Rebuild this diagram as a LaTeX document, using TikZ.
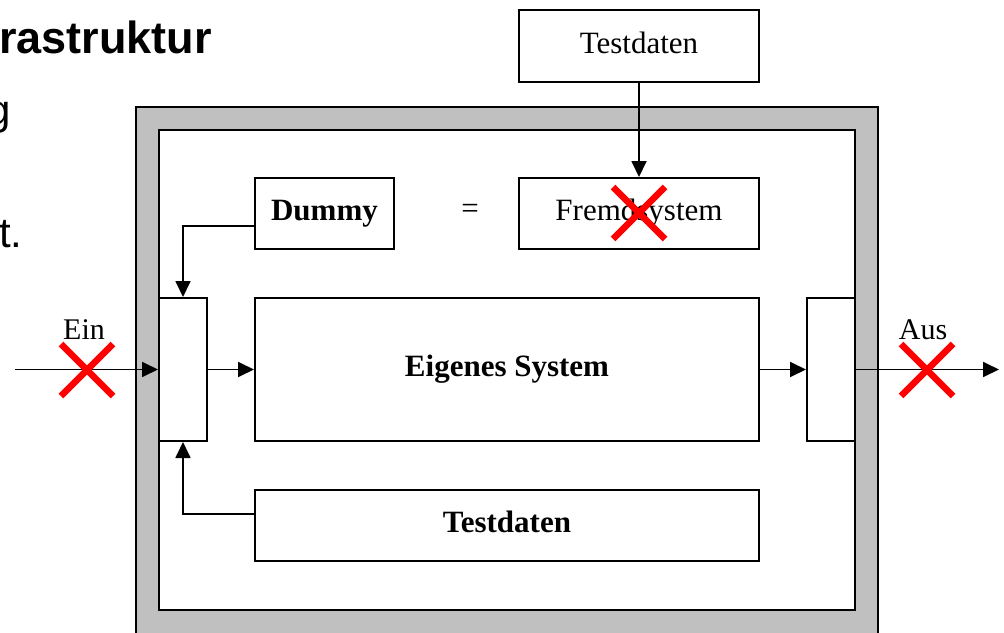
\documentclass[tikz,border=0pt]{standalone}
\usepackage{fontspec}
\setmainfont{Liberation Serif}
\newfontfamily\slidefont{Liberation Sans}
\usetikzlibrary{arrows.meta}
\definecolor{framegray}{HTML}{C0C0C0}
\definecolor{crossred}{HTML}{FF0000}

\begin{document}
\begin{tikzpicture}[x=1pt,y=-1pt,
  box/.style={draw, line width=2pt, fill=white, inner sep=0pt,
    text height=21pt, text depth=7pt, font=\fontsize{31}{36}\selectfont},
  boldbox/.style={box, font=\fontsize{31}{36}\selectfont\bfseries},
  link/.style={line width=1.8pt, -{Triangle[length=16pt,width=15pt]}},
  cross/.style={line width=6.5pt, crossred},
  portlabel/.style={font=\fontsize{30}{34}\selectfont, inner sep=0pt, anchor=base},
  slidetext/.style={inner sep=0pt, anchor=base west}
]
\useasboundingbox (0,0) rectangle (1004,632);

\begin{scope}
  \clip (0,0) rectangle (1004,632);
  % slide text in the background
  \node[slidetext, font=\slidefont\bfseries\fontsize{45}{50}\selectfont] (title) at (-1,53) {rastruktur};
  \node[slidetext, font=\slidefont\fontsize{42}{48}\selectfont] (lineone) at (-13,124) {g};
  \node[slidetext, font=\slidefont\fontsize{42}{48}\selectfont] (linetwo) at (-1,247) {t.};
  % test infrastructure frame
  \draw[line width=2pt, fill=framegray] (136,107) rectangle (878,660);
  \draw[line width=2pt, fill=white] (159,130) rectangle (855,610);
\end{scope}

% boxes
\node[box, minimum width=240pt, minimum height=72pt] (testtop) at (639,46) {Testdaten};
\node[box, minimum width=240pt, minimum height=71pt] (fremd) at (639,213.5) {Fremdsystem};
\node[boldbox, minimum width=139pt, minimum height=71pt] (dummy) at (324.5,213.5) {Dummy};
\node[font=\fontsize{31}{36}\selectfont, inner sep=0pt] (eq) at (470,211) {=};
\node[box, minimum width=48pt, minimum height=143pt] (inbox) at (183,369.5) {};
\node[boldbox, minimum width=504pt, minimum height=143pt] (eigen) at (507,369.5) {Eigenes System};
\node[box, minimum width=48pt, minimum height=143pt] (outbox) at (831,369.5) {};
\node[boldbox, minimum width=504pt, minimum height=71pt] (testbot) at (507,525.5) {Testdaten};

% free ends of the external connections
\coordinate (einstart) at (15,369.5);
\coordinate (ausend) at (999,369.5);

% connectors
\draw[link] (testtop.south) -- (fremd.north);
\draw[link] ([yshift=-12.5pt]dummy.west) -| (inbox.north);
\draw[link] ([yshift=11.5pt]testbot.west) -| (inbox.south);
\draw[link] (einstart) -- (inbox.west);
\draw[link] (inbox.east) -- (eigen.west);
\draw[link] (eigen.east) -- (outbox.west);
\draw[link] (outbox.east) -- (ausend);

% port labels
\node[portlabel] (ein) at (84,339) {Ein};
\node[portlabel] (aus) at (923,339) {Aus};

% crossed-out connections
\draw[cross] (61,344) -- (113,396) (61,396) -- (113,344);
\draw[cross] (901,344) -- (953,396) (901,396) -- (953,344);
\draw[cross] (613,187) -- (665,239) (613,239) -- (665,187);
\end{tikzpicture}
\end{document}
